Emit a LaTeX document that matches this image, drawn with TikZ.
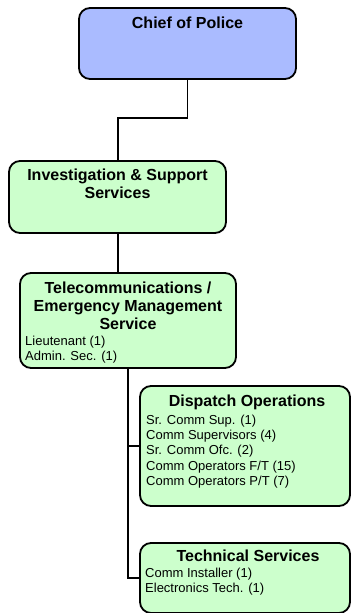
\documentclass[tikz,border=0pt]{standalone}
\usepackage{fontspec}
\setmainfont{Liberation Sans}
\definecolor{chiefblue}{RGB}{170,187,255}
\definecolor{unitgreen}{RGB}{204,255,204}
\begin{document}
\begin{tikzpicture}[x=1pt,y=-1pt,
  box/.style={draw=black,line width=1.8pt,rounded corners=11pt,anchor=north west,inner sep=0pt,outer sep=0pt},
  chiefbox/.style={box,fill=chiefblue},
  unitbox/.style={box,fill=unitgreen},
  title/.style={anchor=base,inner sep=0pt,align=center,font=\fontsize{16}{18.2}\selectfont\bfseries},
  staff/.style={anchor=base west,inner sep=0pt,align=left,font=\fontsize{13}{15.4}\selectfont},
  link/.style={line width=1.8pt}]
\useasboundingbox (0,0) rectangle (351,613);
\node[chiefbox,minimum width=217pt,minimum height=71pt] (chief) at (79,8) {};
\node[unitbox,minimum width=217pt,minimum height=72pt] (invest) at (9,161) {};
\node[unitbox,minimum width=216pt,minimum height=95pt] (telecom) at (20,273) {};
\node[unitbox,minimum width=210pt,minimum height=120pt] (disp) at (140,386) {};
\node[unitbox,minimum width=210pt,minimum height=70pt] (tech) at (140,543) {};
\coordinate (j1) at (0,118);
\draw[link] (chief.south) -- (chief.south |- j1) -- (118,118) coordinate (j2) -- (j2 |- invest.north);
\draw[link] (j2 |- invest.south) -- (j2 |- telecom.north);
\draw[link] (telecom.south) |- (tech.west);
\draw[link] (telecom.south |- disp.west) -- (disp.west);
\node[title] (chieft) at (187.5,28) {Chief of Police};
\node[title,anchor=north] (investt) at (117.5,168.5) {Investigation \& Support\\Services};
\node[title,anchor=north] (telecomt) at (128,281.5) {Telecommunications /\\Emergency Management\\Service};
\node[staff] (telecoms) at (25,360.5) {Lieutenant (1)\\Admin. Sec. (1)};
\node[title] (dispt) at (247,406.7) {Dispatch Operations};
\node[staff] (disps) at (146,485.7) {Sr. Comm Sup. (1)\\Comm Supervisors (4)\\Sr. Comm Ofc. (2)\\Comm Operators F/T (15)\\Comm Operators P/T (7)};
\node[title] (techt) at (248,561.7) {Technical Services};
\node[staff] (techs) at (145,592.7) {Comm Installer (1)\\Electronics Tech. (1)};
\end{tikzpicture}
\end{document}
